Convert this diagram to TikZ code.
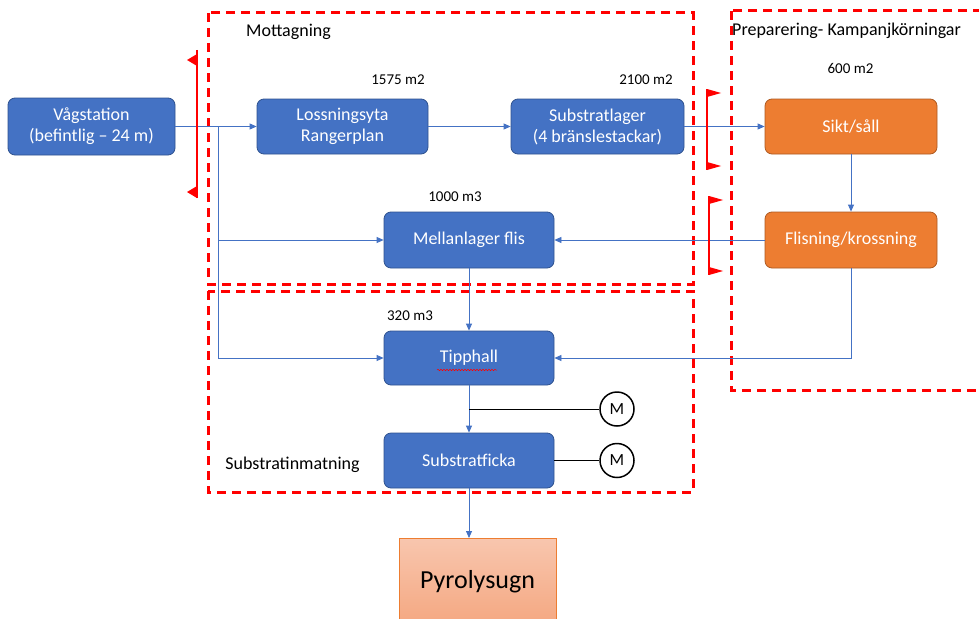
\documentclass[tikz,border=0pt]{standalone}
\usepackage{fontspec}
\setmainfont{Carlito}
\usetikzlibrary{arrows.meta,decorations.pathmorphing}
\definecolor{bluefill}{HTML}{4472C4}
\definecolor{blueedge}{HTML}{2F528F}
\definecolor{orfill}{HTML}{ED7D31}
\definecolor{oredge}{HTML}{AE5A21}
\definecolor{conn}{HTML}{4472C4}
\definecolor{pyrtop}{HTML}{F8C6AE}
\definecolor{pyrbot}{HTML}{F4A47C}
\definecolor{pyredge}{HTML}{ED7D31}
\definecolor{flagred}{HTML}{FF0000}
\tikzset{
  procbox/.style={draw=blueedge, fill=bluefill, rounded corners=7pt, minimum width=171pt, minimum height=55pt,
    text=white, font=\fontsize{18}{21}\selectfont, align=center, line width=0.8pt, inner sep=0pt},
  prepbox/.style={procbox, draw=oredge, fill=orfill},
  lbl/.style={font=\fontsize{15}{17}\selectfont, text=black, inner sep=0pt},
  arealbl/.style={font=\fontsize{18}{21}\selectfont, text=black, inner sep=0pt},
  conline/.style={draw=conn, line width=0.8pt},
  arr/.style={conline, -{Triangle[length=7pt,width=6pt]}},
  zone/.style={draw=flagred, line width=3pt, dash pattern=on 9pt off 6pt},
  flagline/.style={draw=flagred, line width=1.2pt},
  flagtri/.style={fill=flagred},
  motor/.style={circle, draw=black, line width=1.5pt, minimum size=34pt, inner sep=0pt, font=\fontsize{17}{19}\selectfont},
}
\begin{document}
\begin{tikzpicture}[x=1pt,y=-1pt]
\useasboundingbox (0,0) rectangle (979,618);
\fill[white] (0,0) rectangle (979,618);

% zones
\draw[zone] (208,13) rectangle (693,284);
\draw[zone] (208,291) rectangle (693,492);
\draw[zone] (731,11) rectangle (995,390);

% nodes
\node[procbox, minimum width=167pt, minimum height=57pt] (vag) at (91.5,126.5) {Vågstation\\(befintlig – 24 m)};
\node[procbox] (loss) at (342.5,126.5) {Lossningsyta\\Rangerplan};
\node[procbox, minimum width=173pt] (subl) at (597.5,126.5) {Substratlager\\(4 bränslestackar)};
\node[prepbox, minimum width=172pt] (sikt) at (851,126.5) {Sikt/såll};
\node[prepbox, minimum width=172pt, minimum height=56pt] (flis) at (851,240) {Flisning/krossning};
\node[procbox, minimum width=170pt, minimum height=56pt] (mell) at (469,240) {Mellanlager flis};
\node[procbox, minimum width=170pt, minimum height=54pt] (tip) at (469,358) {Tipphall};
\node[procbox, minimum width=170pt] (sf) at (469,460.5) {Substratficka};
\node[draw=pyredge, line width=0.8pt, top color=pyrtop, bottom color=pyrbot, minimum width=157pt, minimum height=96pt,
  inner sep=0pt, font=\fontsize{26}{30}\selectfont, anchor=north] (pyr) at (477.5,538) {\raisebox{14pt}{Pyrolysugn}};
\node[motor] (m1) at (617,409) {M};
\node[motor] (m2) at (617,460.5) {M};

% labels
\node[arealbl] (tmot) at (288.5,32) {Mottagning};
\node[lbl] (t1575) at (398,80) {1575 m2};
\node[lbl] (t2100) at (646,80) {2100 m2};
\node[lbl] (t1000) at (455,197) {1000 m3};
\node[lbl] (t320) at (410,316) {320 m3};
\node[arealbl] (tsub) at (292.5,465) {Substratinmatning};
\node[arealbl] (tprep) at (846.5,31) {Preparering- Kampanjkörningar};
\node[lbl] (t600) at (850.5,68) {600 m2};

% spell-check squiggle under Tipphall
\draw[flagred, line width=0.5pt, decorate, decoration={snake, amplitude=0.7pt, segment length=3pt}] (437,370) -- (497,370);

% connectors
\coordinate (j1) at (218,126.5);
\coordinate (j2) at (218,240);
\coordinate (j3) at (218,358);
\coordinate (j4) at (469,409);
\draw[arr] (vag.east) -- (loss.west);
\draw[conline] (j1) -- (j3);
\draw[arr] (j2) -- (mell.west);
\draw[arr] (j3) -- (tip.west);
\draw[arr] (loss.east) -- (subl.west);
\draw[arr] (subl.east) -- (sikt.west);
\draw[arr] (sikt.south) -- (flis.north);
\draw[arr] (flis.west) -- (mell.east);
\draw[arr] (flis.south) |- (tip.east);
\draw[arr] (mell.south) -- (tip.north);
\draw[arr] (tip.south) -- (sf.north);
\draw[arr] (sf.south) -- (sf.south |- pyr.north);
\draw[black, line width=0.8pt] (j4) -- (m1.west);
\draw[black, line width=0.8pt] (sf.east) -- (m2.west);

% flags left
\draw[flagline] (197,50) -- (197,198);
\fill[flagtri] (197,54) -- (187,60) -- (197,66) -- cycle;
\fill[flagtri] (197,186) -- (187,192) -- (197,198) -- cycle;
% flags right
\draw[flagline] (707,89) -- (707,170);
\fill[flagtri] (707,89) -- (721,93) -- (707,97) -- cycle;
\fill[flagtri] (707,162) -- (721,166) -- (707,170) -- cycle;
\draw[flagline] (709,196) -- (709,275);
\fill[flagtri] (709,196) -- (723,200) -- (709,204) -- cycle;
\fill[flagtri] (709,267) -- (723,271) -- (709,275) -- cycle;
\end{tikzpicture}
\end{document}
